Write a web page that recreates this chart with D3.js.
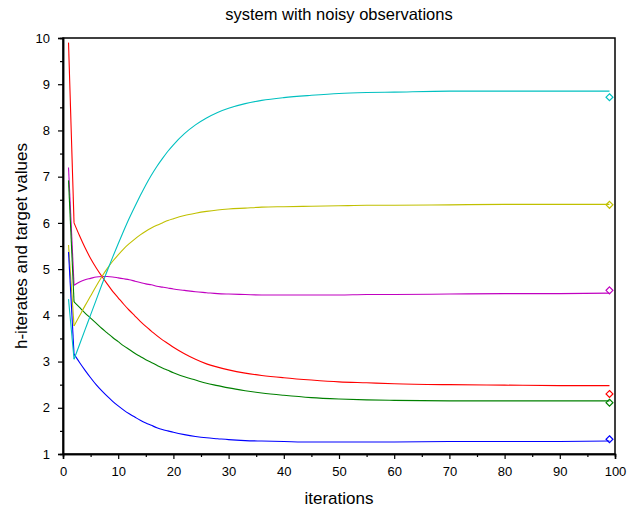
<!DOCTYPE html>
<html>
<head>
<meta charset="utf-8">
<script src="https://cdn.jsdelivr.net/npm/d3@7"></script>
<style>
  body { margin: 0; background: #fff; }
  text { font-family: "Liberation Sans", Arial, sans-serif; }
</style>
</head>
<body>
<script>
var iters = [1, 2, 3, 4, 5, 6, 7, 8, 9, 10, 11, 12, 13, 14, 15, 16, 17, 18, 19, 20,
             22, 24, 26, 28, 30, 33, 36, 40, 45, 50, 55, 60, 70, 80, 90, 99];

var redVals     = [9.9, 6.00, 5.72, 5.46, 5.23, 5.03, 4.85, 4.68, 4.52, 4.38, 4.24, 4.11, 3.99, 3.87, 3.76, 3.66, 3.56, 3.47, 3.39, 3.31,
                   3.17, 3.05, 2.95, 2.88, 2.82, 2.75, 2.70, 2.65, 2.60, 2.56, 2.54, 2.52, 2.50, 2.49, 2.48, 2.48];
var magentaVals = [7.2, 4.65, 4.72, 4.77, 4.80, 4.83, 4.84, 4.84, 4.83, 4.81, 4.79, 4.77, 4.74, 4.71, 4.68, 4.66, 4.63, 4.61, 4.59, 4.57,
                   4.54, 4.51, 4.49, 4.47, 4.46, 4.45, 4.44, 4.44, 4.44, 4.44, 4.45, 4.45, 4.46, 4.47, 4.47, 4.48];
var greenVals   = [6.92, 4.29, 4.17, 4.05, 3.94, 3.83, 3.72, 3.62, 3.52, 3.43, 3.34, 3.26, 3.18, 3.11, 3.04, 2.98, 2.92, 2.86, 2.81, 2.76,
                   2.67, 2.60, 2.53, 2.48, 2.43, 2.37, 2.32, 2.27, 2.22, 2.19, 2.17, 2.16, 2.15, 2.15, 2.15, 2.15];
var yellowVals  = [5.52, 3.77, 3.99, 4.21, 4.42, 4.63, 4.83, 5.01, 5.17, 5.31, 5.44, 5.55, 5.65, 5.74, 5.82, 5.89, 5.95, 6.00, 6.05, 6.09,
                   6.16, 6.21, 6.25, 6.28, 6.30, 6.32, 6.34, 6.35, 6.36, 6.37, 6.38, 6.38, 6.39, 6.40, 6.40, 6.40];
var blueVals    = [5.37, 3.16, 2.98, 2.81, 2.65, 2.50, 2.37, 2.25, 2.14, 2.04, 1.95, 1.87, 1.80, 1.73, 1.67, 1.62, 1.57, 1.53, 1.50, 1.47,
                   1.42, 1.38, 1.35, 1.33, 1.31, 1.29, 1.28, 1.27, 1.26, 1.26, 1.26, 1.26, 1.27, 1.27, 1.27, 1.28];
var cyanVals    = [4.35, 3.05, 3.37, 3.69, 4.01, 4.33, 4.65, 4.96, 5.26, 5.55, 5.83, 6.10, 6.35, 6.59, 6.82, 7.03, 7.22, 7.39, 7.55, 7.69,
                   7.93, 8.12, 8.27, 8.39, 8.48, 8.58, 8.65, 8.71, 8.76, 8.80, 8.82, 8.83, 8.85, 8.85, 8.85, 8.85];

var seriesNames = ["red", "magenta", "green", "yellow", "blue", "cyan"];
var seriesColors = ["#ff0000", "#c000c0", "#008000", "#c0c000", "#0000ff", "#00c0c0"];
var seriesVals = [redVals, magentaVals, greenVals, yellowVals, blueVals, cyanVals];

// target values, shown as diamonds at the last iteration
var targetIter = 99;
var targetVals = [2.30, 4.54, 2.11, 6.39, 1.32, 8.72];

var xTicks = [0, 10, 20, 30, 40, 50, 60, 70, 80, 90, 100];
var yTicks = [1, 2, 3, 4, 5, 6, 7, 8, 9, 10];

var width = 643,
    height = 514,
    margin = {top: 38, right: 28, bottom: 60, left: 63};

var svg = d3.select("body").append("svg")
    .attr("width", width)
    .attr("height", height);

var x = d3.scaleLinear().domain([0, 100]).range([margin.left, width - margin.right]);
var y = d3.scaleLinear().domain([1, 10]).range([height - margin.bottom, margin.top]);

// frame
svg.append("rect")
    .attr("x", x(0)).attr("y", y(10))
    .attr("width", x(100) - x(0)).attr("height", y(1) - y(10))
    .attr("fill", "none").attr("stroke", "#000").attr("stroke-width", 1.5);

// minor ticks
var gxm = svg.append("g")
    .attr("transform", "translate(0," + y(1) + ")")
    .call(d3.axisBottom(x).tickValues(d3.range(5, 100, 10)).tickSize(3).tickFormat(""));
var gym = svg.append("g")
    .attr("transform", "translate(" + x(0) + ",0)")
    .call(d3.axisLeft(y).tickValues(d3.range(1.5, 10, 1)).tickSize(3).tickFormat(""));

var gx = svg.append("g")
    .attr("transform", "translate(0," + y(1) + ")")
    .call(d3.axisBottom(x).tickValues(xTicks).tickSize(5).tickPadding(8));
var gy = svg.append("g")
    .attr("transform", "translate(" + x(0) + ",0)")
    .call(d3.axisLeft(y).tickValues(yTicks).tickSize(5).tickPadding(8));

[gx, gy, gxm, gym].forEach(function(g){
  g.select(".domain").attr("stroke-width", 1.5);
  g.selectAll(".tick line").attr("stroke-width", 1.2);
  g.selectAll("text").attr("font-size", 13).attr("fill", "#000")
    .style("font-family", "'Liberation Sans', Arial, sans-serif");
});

// the first step (1 -> 2) is a straight jump, the rest is smooth
var jump = d3.line()
    .x(function(d){ return x(d[0]); })
    .y(function(d){ return y(d[1]); });
var smooth = d3.line()
    .x(function(d){ return x(d[0]); })
    .y(function(d){ return y(d[1]); })
    .curve(d3.curveMonotoneX);

seriesVals.forEach(function(vals, k){
  var pts = iters.map(function(it, i){ return [it, vals[i]]; });
  var g = svg.append("g").attr("class", "series " + seriesNames[k])
    .attr("fill", "none")
    .attr("stroke", seriesColors[k])
    .attr("stroke-width", 1.1);
  g.append("path").datum(pts.slice(0, 2)).attr("d", jump);
  g.append("path").datum(pts.slice(1)).attr("d", smooth);
});

svg.selectAll(".target")
  .data(targetVals)
  .enter().append("path")
  .attr("class", "target")
  .attr("d", d3.symbol().type(d3.symbolDiamond2).size(30))
  .attr("transform", function(d){ return "translate(" + x(targetIter) + "," + y(d) + ")"; })
  .attr("fill", "none")
  .attr("stroke", function(d, i){ return seriesColors[i]; })
  .attr("stroke-width", 1.2);

// titles
svg.append("text")
  .attr("x", (x(0) + x(100)) / 2).attr("y", 20)
  .attr("text-anchor", "middle").attr("font-size", 16.5)
  .text("system with noisy observations");

svg.append("text")
  .attr("x", (x(0) + x(100)) / 2).attr("y", 504)
  .attr("text-anchor", "middle").attr("font-size", 17)
  .text("iterations");

svg.append("text")
  .attr("transform", "translate(27," + ((y(1) + y(10)) / 2) + ") rotate(-90)")
  .attr("text-anchor", "middle").attr("font-size", 17)
  .text("h-iterates and target values");
</script>
</body>
</html>
